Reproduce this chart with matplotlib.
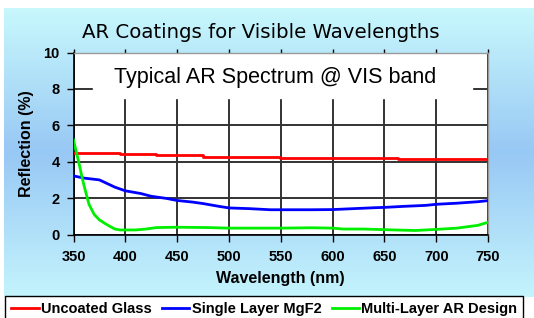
import numpy as np
import matplotlib.pyplot as plt
from matplotlib.colors import LinearSegmentedColormap
from matplotlib.lines import Line2D

# Datos
lam_vidrio = [350, 395, 430, 475, 549, 663, 750]
r_vidrio = [4.5, 4.43, 4.35, 4.28, 4.22, 4.15, 4.15]

lam_mgf2 = [350, 360, 375, 390, 400, 415, 425, 440, 450, 465, 475, 490, 500, 520,
            540, 560, 580, 600, 620, 640, 650, 670, 690, 700, 720, 740, 750]
r_mgf2 = [3.22, 3.1, 3.0, 2.6, 2.4, 2.25, 2.1, 1.98, 1.87, 1.78, 1.7, 1.55, 1.46, 1.42,
          1.36, 1.36, 1.36, 1.37, 1.42, 1.47, 1.49, 1.55, 1.6, 1.66, 1.72, 1.8, 1.86]

lam_multi = [350, 352, 355, 358, 361, 365, 370, 375, 380, 385, 390, 395, 400, 410, 420,
             430, 450, 480, 500, 550, 580, 600, 610, 630, 660, 680, 700, 720, 740, 750]
r_multi = [5.2, 4.7, 4.0, 3.2, 2.5, 1.65, 1.1, 0.8, 0.62, 0.45, 0.3, 0.25, 0.25, 0.25, 0.3,
           0.38, 0.4, 0.38, 0.35, 0.35, 0.37, 0.35, 0.3, 0.3, 0.25, 0.22, 0.28, 0.35, 0.5, 0.67]

etiquetas = ['Uncoated Glass', 'Single Layer MgF2', 'Multi-Layer AR Design']
colores = ['#ff0000', '#0000ff', '#00ee00']

plt.rcParams['font.family'] = ['Liberation Sans', 'DejaVu Sans']

fig = plt.figure(figsize=(5.34, 3.18), dpi=100)
W, H = 534, 318

# Fondo degradado
fondo = fig.add_axes([4 / W, 1 - 297 / H, 1 - 4 / W, (297 - 8) / H], zorder=-10)
cmap = LinearSegmentedColormap.from_list('fondo', ['#c8f8fc', '#98c8f4', '#c4f4fc'])
grad = np.linspace(0, 1, 256).reshape(-1, 1)
fondo.imshow(grad, aspect='auto', cmap=cmap, extent=[0, 1, 0, 1])
fondo.axis('off')

ax = fig.add_axes([73.5 / W, 1 - 234.5 / H, (488 - 73.5) / W, (234.5 - 52.5) / H])
ax.set_facecolor('white')

ax.plot(lam_vidrio, r_vidrio, color=colores[0], lw=2, drawstyle='steps-post', zorder=5)
ax.plot(lam_mgf2, r_mgf2, color=colores[1], lw=2, zorder=5)
ax.plot(lam_multi, r_multi, color=colores[2], lw=2, zorder=5)

ax.set_xlim(350, 750)
ax.set_ylim(0, 10)
ax.set_xticks(range(350, 751, 50))
ax.set_yticks(range(0, 11, 2))
ax.grid(True, color='#333333', lw=1.4)
ax.set_axisbelow(True)

for s in ['top', 'right']:
    ax.spines[s].set_color('#999999')
    ax.spines[s].set_linewidth(1)
for s in ['left', 'bottom']:
    ax.spines[s].set_color('black')
    ax.spines[s].set_linewidth(1.2)
ax.tick_params(direction='out', length=5, width=1, labelsize=10.5, pad=5)
ax.tick_params(axis='x', top=True, labeltop=False)
ax.tick_params(axis='x', which='major', pad=6)
for t in ax.xaxis.get_major_ticks():
    t.tick2line.set_color('#999999')
    t.tick2line.set_markersize(3)
for t in ax.get_xticklabels() + ax.get_yticklabels():
    t.set_fontweight('bold')

ax.set_xlabel('Wavelength (nm)', fontsize=11.5, fontweight='bold', labelpad=5)
ax.set_ylabel('Reflection (%)', fontsize=11.5, fontweight='bold', labelpad=7)

# Cuadro blanco con el texto
ax.add_patch(plt.Rectangle((369, 7.5), 366, 2.5, color='white', zorder=2,
                           transform=ax.transData))
ax.text(0.486, 0.83, 'Typical AR Spectrum @ VIS band', transform=ax.transAxes,
        ha='center', va='baseline', fontsize=15.5, zorder=3)

fig.text(261 / W, 1 - 32 / H, 'AR Coatings for Visible Wavelengths',
         ha='center', va='center', fontsize=14.2, family='DejaVu Sans')

manijas = [Line2D([], [], color=c, lw=2) for c in colores]
fig.legend(manijas, etiquetas, ncol=3, loc='upper left',
           bbox_to_anchor=(5 / W, 1 - 296 / H), frameon=True, fancybox=False,
           edgecolor='black', framealpha=1, handlelength=1.9,
           handletextpad=0.15, columnspacing=0.7, borderpad=0.4, borderaxespad=0,
           prop={'weight': 'bold', 'size': 10.5})

fig.savefig('out.png', dpi=100)
